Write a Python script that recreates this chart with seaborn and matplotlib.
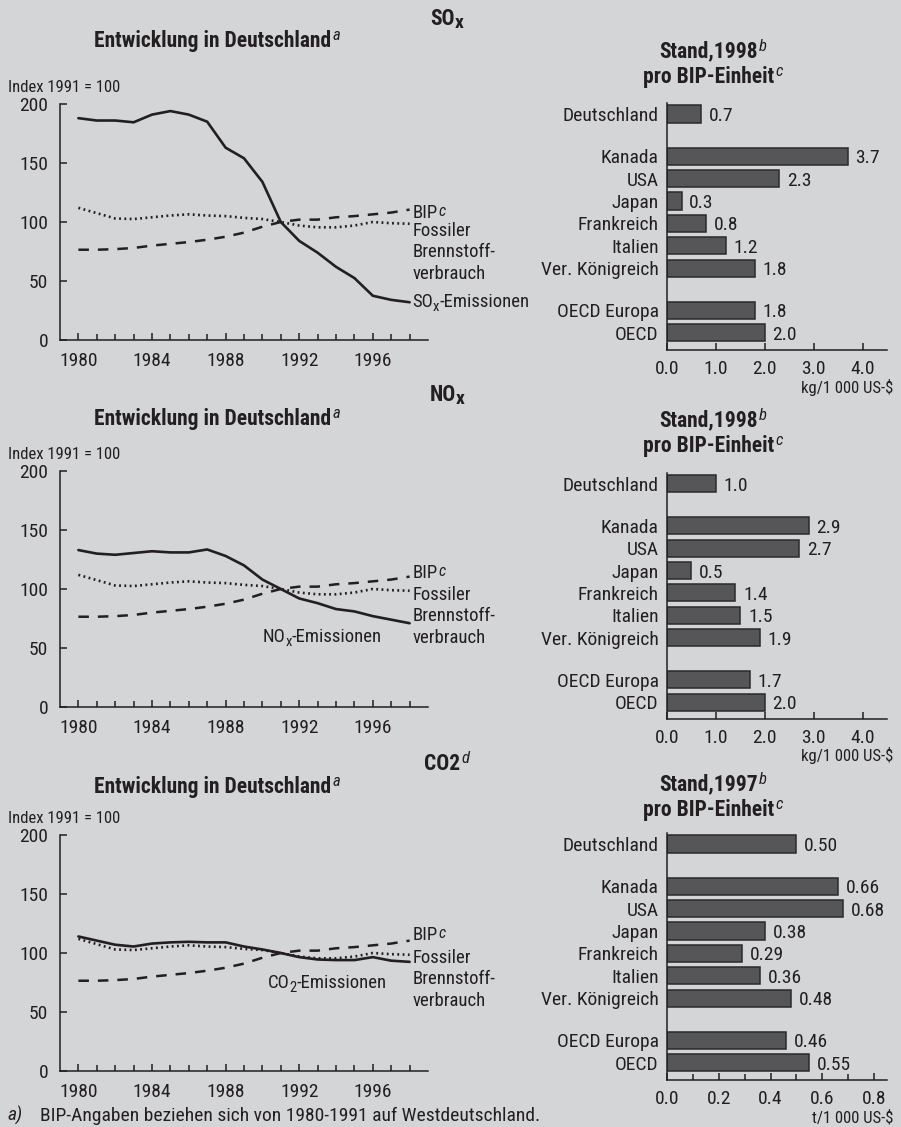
import matplotlib
matplotlib.use("Agg")
import matplotlib.pyplot as plt
from matplotlib import font_manager
from matplotlib.transforms import IdentityTransform
from matplotlib.ticker import FixedLocator
import seaborn as sns

# ---------------------------------------------------------------- data
years = [1980, 1981, 1982, 1983, 1984, 1985, 1986, 1987, 1988, 1989,
         1990, 1991, 1992, 1993, 1994, 1995, 1996, 1997, 1998]

gdp_index = [76.5, 76.5, 77, 78, 80, 81.5, 83, 85, 87.5, 91,
             96, 100, 102, 102, 104, 105, 106.5, 108, 110.5]
fossil_fuel_index = [112, 107.5, 103, 102.5, 104, 105.5, 106.5, 105.5, 105, 103.5,
                     102.5, 100, 97, 95.5, 95.5, 97, 100, 99, 98.5]
sox_index = [188, 186, 186, 184.5, 191, 194, 191, 185, 163, 154,
             134, 100, 84, 74, 62, 52.5, 37.5, 34, 32]
nox_index = [133, 130, 129, 130.5, 132, 131, 131, 133.5, 128, 120,
             108, 100, 92, 88, 83, 81, 77, 74, 71]
co2_index = [114, 110.5, 107, 105.5, 108, 109, 109.5, 109, 109, 105.5,
             103, 100, 96.5, 94.5, 94, 94, 96.5, 93.5, 92.5]

countries = ["Deutschland", "Kanada", "USA", "Japan", "Frankreich", "Italien",
             "Ver. Königreich", "OECD Europa", "OECD"]
country_group_sizes = [1, 6, 2]
sox_intensity = [0.7, 3.7, 2.3, 0.3, 0.8, 1.2, 1.8, 1.8, 2.0]
nox_intensity = [1.0, 2.9, 2.7, 0.5, 1.4, 1.5, 1.9, 1.7, 2.0]
co2_intensity = [0.50, 0.66, 0.68, 0.38, 0.29, 0.36, 0.48, 0.46, 0.55]

year_ticks = [1980, 1984, 1988, 1992, 1996]
index_ticks = [0, 50, 100, 150, 200]

# ---------------------------------------------------------------- style
BG = "#d4d5d7"
INK = "#231f20"
BAR = "#565658"
BAR_EDGE = "#2a2a2c"

sns.set_style("ticks")
installed = {f.name for f in font_manager.fontManager.ttflist}
family = next((f for f in ["Liberation Sans Narrow", "Roboto Condensed",
                           "Liberation Sans"] if f in installed), "DejaVu Sans")
plt.rcParams["font.family"] = [family, "DejaVu Sans"]
plt.rcParams.update({
    "text.color": INK, "axes.edgecolor": INK, "xtick.color": INK,
    "ytick.color": INK, "xtick.labelcolor": INK, "ytick.labelcolor": INK,
    "axes.linewidth": 1.1, "xtick.major.width": 1.1, "ytick.major.width": 1.1,
    "xtick.minor.width": 1.1,
})

W, H = 901, 1127
fig = plt.figure(figsize=(W / 100, H / 100), dpi=100, facecolor=BG)
renderer = fig.canvas.get_renderer()

TICK_FS = 14
LABEL_FS = 13.5
TITLE_FS = 15.5


def px_axes(left, top, right, bottom):
    ax = fig.add_axes([left / W, 1 - bottom / H, (right - left) / W, (bottom - top) / H])
    ax.set_facecolor("none")
    return ax


def rich(x, y, parts, ha="left", size=14, weight="normal", va="center"):
    """Draw a run of text pieces (for sub/superscripts) at pixel (x, y) from top-left."""
    items = []
    for p in parts:
        s, o = (p, {}) if isinstance(p, str) else p
        t = fig.text(0, 0, s, transform=IdentityTransform(),
                     fontsize=o.get("size", size), fontweight=o.get("weight", weight),
                     fontstyle=o.get("style", "normal"), color=INK,
                     ha="left", va="baseline")
        w = t.get_window_extent(renderer).width
        items.append((t, w, o.get("dy", 0), o.get("gap", 0)))
    total = sum(w + g for _, w, _, g in items)
    x0 = x - {"left": 0, "center": total / 2, "right": total}[ha]
    base = H - y
    if va == "center":
        base -= 0.36 * size * 100 / 72
    for t, w, dy, g in items:
        x0 += g
        t.set_position((x0, base + dy))
        x0 += w


def data_to_px(ax, xd, yd):
    dx, dy = ax.transData.transform((xd, yd))
    return dx, H - dy


SUP = {"style": "italic", "weight": "normal", "size": 12, "dy": 7, "gap": 1}

# ---------------------------------------------------------------- panels
panels = [
    dict(top=104, bottom=340, emis=sox_index, inten=sox_intensity,
         gas=[("SO", {}), ("x", {"size": 14, "dy": -3})],
         gas_y=17, dev_y=39, idx_y=86,
         bar_top=103, bar_bottom=350, stand="Stand,1998", stand_y=50,
         unit="kg/1 000 US-$", unit_y=387, xmax=4.5, fmt="{:.1f}",
         bip_y=109.3, fossil_y=94.1,
         emis_label=(1998.15, 33.9, "SO")),
    dict(top=471, bottom=707, emis=nox_index, inten=nox_intensity,
         gas=[("NO", {}), ("x", {"size": 14, "dy": -3})],
         gas_y=393, dev_y=417, idx_y=453,
         bar_top=473, bar_bottom=719, stand="Stand,1998", stand_y=419,
         unit="kg/1 000 US-$", unit_y=755, xmax=4.5, fmt="{:.1f}",
         bip_y=115.3, fossil_y=96.6,
         emis_label=(1990.0, 61.0, "NO")),
    dict(top=835, bottom=1071, emis=co2_index, inten=co2_intensity,
         gas=[("CO2", {}), ("d", SUP)],
         gas_y=762, dev_y=785, idx_y=817,
         bar_top=833, bar_bottom=1080, stand="Stand,1997", stand_y=783,
         unit="t/1 000 US-$", unit_y=1117, xmax=0.85, fmt="{:.2f}",
         bip_y=116.9, fossil_y=97.5,
         emis_label=(1990.3, 76.3, "CO")),
]

# bar positions: groups separated by a small gap
bar_pos = []
p = 0.0
for n in country_group_sizes:
    for _ in range(n):
        bar_pos.append(p)
        p += 1
    p += 0.875

for pn in panels:
    # ---------------- development lines
    ax = px_axes(60, pn["top"], 428, pn["bottom"])
    sns.lineplot(x=years, y=gdp_index, ax=ax, color=INK, linewidth=1.8)
    ax.lines[-1].set_dashes((4.2, 3.6))
    sns.lineplot(x=years, y=fossil_fuel_index, ax=ax, color=INK, linewidth=1.9)
    ax.lines[-1].set_dashes((0.7, 1.3))
    sns.lineplot(x=years, y=pn["emis"], ax=ax, color=INK, linewidth=1.9)
    ax.set_xlim(1979, 1999)
    ax.set_ylim(0, 200)
    ax.set_xlabel("")
    ax.set_ylabel("")
    sns.despine(ax=ax)
    ax.xaxis.set_major_locator(FixedLocator(year_ticks))
    ax.xaxis.set_minor_locator(FixedLocator([y for y in years if y not in year_ticks]))
    ax.set_xticklabels([str(y) for y in year_ticks])
    ax.yaxis.set_major_locator(FixedLocator(index_ticks))
    ax.set_yticklabels([str(v) for v in index_ticks])
    ax.tick_params(axis="both", which="major", direction="in", length=5,
                   labelsize=TICK_FS, pad=8.5)
    ax.tick_params(axis="x", which="minor", direction="in", length=4.3)

    # line labels
    lx, _ = data_to_px(ax, 1998.15, 0)
    _, by = data_to_px(ax, 0, pn["bip_y"])
    rich(lx, by, ["BIP", ("c", {"style": "italic", "size": 11.5, "dy": 2, "gap": 1})],
         size=LABEL_FS)
    _, fy = data_to_px(ax, 0, pn["fossil_y"])
    for i, line in enumerate(["Fossiler", "Brennstoff-", "verbrauch"]):
        rich(lx, fy + 21.5 * i, [line], size=LABEL_FS)
    ex, ey, gas = pn["emis_label"]
    ex, ey = data_to_px(ax, ex, ey)
    sub = "2" if gas == "CO" else "x"
    rich(ex, ey, [gas, (sub, {"size": 10.5, "dy": -4}), "-Emissionen"], size=LABEL_FS)

    # headings
    rich(447, pn["gas_y"], pn["gas"], ha="center", size=TITLE_FS, weight="bold")
    rich(217, pn["dev_y"], ["Entwicklung in Deutschland", ("a", SUP)],
         ha="center", size=TITLE_FS, weight="bold")
    rich(8, pn["idx_y"], ["Index 1991 = 100"], size=12)

    # ---------------- intensity bars
    bx = px_axes(667, pn["bar_top"], 887, pn["bar_bottom"])
    sns.barplot(x=pn["inten"], y=bar_pos, orient="y", native_scale=True, width=0.76,
                color=BAR, edgecolor=BAR_EDGE, linewidth=1.1, saturation=1,
                errorbar=None, ax=bx)
    bx.set_ylim(bar_pos[-1] + 0.76, -0.49)
    bx.set_xlim(0, pn["xmax"])
    bx.set_xlabel("")
    bx.set_ylabel("")
    sns.despine(ax=bx)
    bx.yaxis.set_major_locator(FixedLocator(bar_pos))
    bx.set_yticklabels(countries)
    bx.tick_params(axis="y", length=0, labelsize=TICK_FS, pad=6)
    if pn["xmax"] > 1:
        xt = [0, 1, 2, 3, 4]
        bx.xaxis.set_major_locator(FixedLocator(xt))
        bx.set_xticklabels([f"{v:.1f}" for v in xt])
    else:
        xt = [0, 0.2, 0.4, 0.6, 0.8]
        bx.xaxis.set_major_locator(FixedLocator(xt))
        bx.xaxis.set_minor_locator(FixedLocator([0.1, 0.3, 0.5, 0.7]))
        bx.set_xticklabels([f"{v:.1f}" for v in xt])
        bx.tick_params(axis="x", which="minor", direction="in", length=4.5)
    bx.tick_params(axis="x", which="major", direction="in", length=5,
                   labelsize=TICK_FS, pad=7)
    for v, yp in zip(pn["inten"], bar_pos):
        bx.annotate(pn["fmt"].format(v), (v, yp), xytext=(5.5, 0),
                    textcoords="offset points", va="center_baseline", ha="left",
                    fontsize=TICK_FS, color=INK)

    rich(713, pn["stand_y"], [pn["stand"], ("b", SUP)],
         ha="center", size=TITLE_FS, weight="bold")
    rich(713, pn["stand_y"] + 25, ["pro BIP-Einheit", ("c", SUP)],
         ha="center", size=TITLE_FS, weight="bold")
    rich(893, pn["unit_y"], [pn["unit"]], ha="right", size=12)

# footnote
rich(8, 1114, [("a)", {"style": "italic"})], size=14)
rich(40, 1114, ["BIP-Angaben beziehen sich von 1980-1991 auf Westdeutschland."], size=14)

fig.savefig("out.png", dpi=100, facecolor=BG)
